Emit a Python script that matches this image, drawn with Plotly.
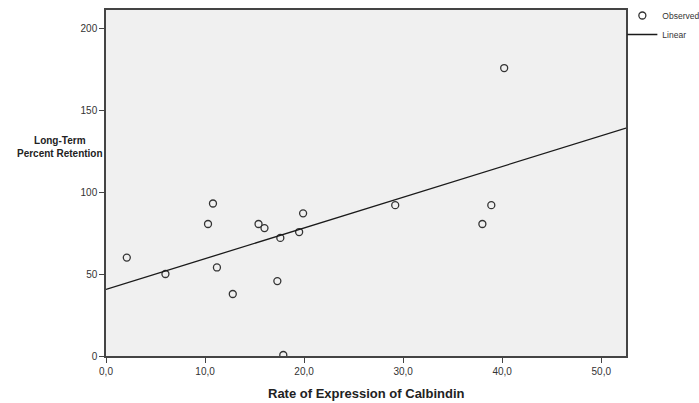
import plotly.graph_objects as go

rate_calbindin = [2.1, 6.0, 10.3, 10.8, 11.2, 12.8, 15.4, 16.0, 17.3, 17.6, 17.9, 19.5, 19.9, 29.2, 38.0, 38.9, 40.2]
retention = [60.0, 50.0, 80.5, 93.0, 54.0, 37.8, 80.5, 78.0, 45.7, 72.0, 0.6, 75.6, 87.0, 92.0, 80.5, 92.0, 175.6]

# Linear fit line endpoints
linear_x = [0.0, 52.5]
linear_y = [40.6, 139.0]

x_tickvals = [0, 10, 20, 30, 40, 50]
x_ticktext = ["0,0", "10,0", "20,0", "30,0", "40,0", "50,0"]
y_tickvals = [0, 50, 100, 150, 200]
y_ticktext = ["0", "50", "100", "150", "200"]

FONT = "Liberation Sans, Arial"

fig = go.Figure()
fig.add_trace(go.Scatter(
    x=rate_calbindin, y=retention, mode="markers", name="Observed",
    marker=dict(symbol="circle-open", size=7, color="#333333", line=dict(width=1.3, color="#333333")),
))
fig.add_trace(go.Scatter(
    x=linear_x, y=linear_y, mode="lines", name="Linear",
    line=dict(color="#1a1a1a", width=1.3),
))

fig.update_layout(
    width=699, height=403,
    margin=dict(l=106, r=73, t=10, b=47, autoexpand=False),
    paper_bgcolor="white",
    plot_bgcolor="#f0f0f0",
    font=dict(family=FONT, size=10, color="#333333"),
    showlegend=True,
    legend=dict(x=0.993, y=1.026, xanchor="left", yanchor="top",
                font=dict(family=FONT, size=8.5, color="#333333"),
                bgcolor="rgba(0,0,0,0)", itemwidth=30, tracegroupgap=0),
    xaxis=dict(range=[0, 52.5], tickvals=x_tickvals, ticktext=x_ticktext,
               showgrid=False, zeroline=False, showline=True, linecolor="#444444", linewidth=1.5,
               mirror=True, ticks="outside", ticklen=5, tickcolor="#444444",
               tickfont=dict(family=FONT, size=10, color="#333333")),
    yaxis=dict(range=[0, 211], tickvals=y_tickvals, ticktext=y_ticktext,
               showgrid=False, zeroline=False, showline=True, linecolor="#444444", linewidth=1.5,
               mirror=True, ticks="outside", ticklen=5, tickcolor="#444444",
               tickfont=dict(family=FONT, size=10, color="#333333")),
    annotations=[
        dict(text="<b>Long-Term<br>Percent Retention</b>", xref="paper", yref="paper",
             x=-0.002, y=0.605, xanchor="right", yanchor="middle", showarrow=False, align="center",
             font=dict(family=FONT, size=10, color="#222222")),
        dict(text="<b>Rate of Expression of Calbindin</b>", xref="paper", yref="paper",
             x=0.5, y=-0.08, xanchor="center", yanchor="top", showarrow=False,
             font=dict(family=FONT, size=13, color="#222222")),
    ],
)

fig.write_html("out.html")
